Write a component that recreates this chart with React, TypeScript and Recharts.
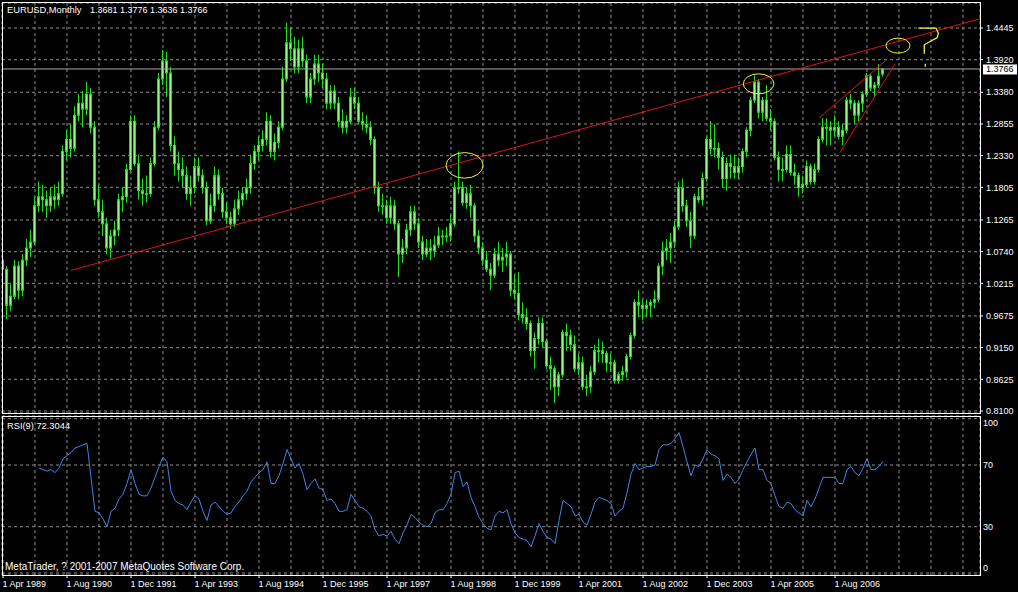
import React from 'react';
import { ComposedChart, Bar, Line, XAxis, YAxis, CartesianGrid, ReferenceLine, ReferenceDot } from 'recharts';

// EURUSD monthly, first bar = 1 Apr 1989. [open, high, low, close]
const candles: [number, number, number, number][] = [
  [1.060, 1.072, 1.030, 1.045], [1.045, 1.050, 0.962, 0.985], [0.985, 1.020, 0.975, 1.000], [1.000, 1.060, 0.995, 1.050],
  [1.050, 1.058, 0.995, 1.010], [1.010, 1.070, 1.000, 1.060], [1.060, 1.095, 1.050, 1.080], [1.080, 1.110, 1.065, 1.090],
  [1.090, 1.165, 1.085, 1.150], [1.150, 1.190, 1.140, 1.165], [1.165, 1.185, 1.140, 1.160], [1.160, 1.175, 1.130, 1.150],
  [1.150, 1.180, 1.140, 1.165], [1.165, 1.185, 1.145, 1.160], [1.160, 1.190, 1.150, 1.170], [1.170, 1.250, 1.165, 1.240],
  [1.240, 1.275, 1.225, 1.260], [1.260, 1.285, 1.230, 1.245], [1.245, 1.315, 1.240, 1.300], [1.300, 1.335, 1.290, 1.320],
  [1.320, 1.340, 1.280, 1.310], [1.310, 1.355, 1.300, 1.335], [1.335, 1.345, 1.270, 1.280], [1.280, 1.290, 1.150, 1.160],
  [1.160, 1.185, 1.130, 1.140], [1.140, 1.160, 1.100, 1.120], [1.120, 1.130, 1.070, 1.080], [1.080, 1.110, 1.063, 1.100],
  [1.100, 1.125, 1.085, 1.110], [1.110, 1.170, 1.100, 1.160], [1.160, 1.180, 1.140, 1.165], [1.165, 1.220, 1.155, 1.210],
  [1.210, 1.300, 1.205, 1.290], [1.290, 1.300, 1.215, 1.220], [1.220, 1.235, 1.160, 1.175], [1.175, 1.195, 1.150, 1.170],
  [1.170, 1.200, 1.155, 1.170], [1.170, 1.230, 1.165, 1.220], [1.220, 1.290, 1.215, 1.280], [1.280, 1.370, 1.275, 1.360],
  [1.360, 1.408, 1.350, 1.390], [1.390, 1.405, 1.330, 1.370], [1.370, 1.380, 1.240, 1.250], [1.250, 1.265, 1.200, 1.220],
  [1.220, 1.240, 1.190, 1.210], [1.210, 1.230, 1.180, 1.200], [1.200, 1.215, 1.160, 1.170], [1.170, 1.200, 1.150, 1.180],
  [1.180, 1.230, 1.170, 1.215], [1.215, 1.230, 1.190, 1.200], [1.200, 1.210, 1.170, 1.180], [1.180, 1.190, 1.118, 1.125],
  [1.125, 1.170, 1.120, 1.150], [1.150, 1.215, 1.140, 1.200], [1.200, 1.210, 1.160, 1.170], [1.170, 1.180, 1.130, 1.140],
  [1.140, 1.155, 1.120, 1.130], [1.130, 1.140, 1.112, 1.120], [1.120, 1.160, 1.115, 1.145], [1.145, 1.175, 1.135, 1.160],
  [1.160, 1.180, 1.150, 1.170], [1.170, 1.195, 1.160, 1.180], [1.180, 1.235, 1.170, 1.220], [1.220, 1.250, 1.210, 1.240],
  [1.240, 1.265, 1.225, 1.250], [1.250, 1.275, 1.240, 1.260], [1.260, 1.305, 1.250, 1.290], [1.290, 1.300, 1.230, 1.240],
  [1.240, 1.270, 1.225, 1.255], [1.255, 1.290, 1.245, 1.280], [1.280, 1.380, 1.275, 1.360], [1.360, 1.453, 1.355, 1.420],
  [1.420, 1.445, 1.390, 1.410], [1.410, 1.430, 1.370, 1.380], [1.380, 1.425, 1.370, 1.410], [1.410, 1.430, 1.380, 1.390],
  [1.390, 1.400, 1.320, 1.330], [1.330, 1.370, 1.320, 1.360], [1.360, 1.400, 1.350, 1.385], [1.385, 1.400, 1.355, 1.370],
  [1.370, 1.385, 1.345, 1.360], [1.360, 1.370, 1.310, 1.320], [1.320, 1.350, 1.310, 1.340], [1.340, 1.350, 1.310, 1.320],
  [1.320, 1.330, 1.280, 1.290], [1.290, 1.310, 1.270, 1.280], [1.280, 1.300, 1.270, 1.290], [1.290, 1.345, 1.285, 1.330],
  [1.330, 1.345, 1.310, 1.320], [1.320, 1.330, 1.285, 1.290], [1.290, 1.305, 1.275, 1.285], [1.285, 1.300, 1.270, 1.280],
  [1.280, 1.290, 1.250, 1.260], [1.260, 1.265, 1.170, 1.180], [1.180, 1.190, 1.140, 1.150], [1.150, 1.170, 1.135, 1.150],
  [1.150, 1.160, 1.120, 1.130], [1.130, 1.165, 1.120, 1.150], [1.150, 1.160, 1.110, 1.120], [1.120, 1.125, 1.032, 1.070],
  [1.070, 1.095, 1.055, 1.080], [1.080, 1.120, 1.070, 1.110], [1.110, 1.150, 1.100, 1.140], [1.140, 1.150, 1.110, 1.120],
  [1.120, 1.130, 1.080, 1.090], [1.090, 1.100, 1.060, 1.070], [1.070, 1.095, 1.065, 1.080], [1.080, 1.095, 1.060, 1.075],
  [1.075, 1.100, 1.065, 1.085], [1.085, 1.115, 1.080, 1.100], [1.100, 1.110, 1.085, 1.100], [1.100, 1.115, 1.090, 1.100],
  [1.100, 1.135, 1.090, 1.120], [1.120, 1.190, 1.115, 1.180], [1.180, 1.240, 1.170, 1.180], [1.180, 1.190, 1.150, 1.155],
  [1.155, 1.180, 1.145, 1.170], [1.170, 1.185, 1.130, 1.150], [1.150, 1.155, 1.090, 1.100], [1.100, 1.110, 1.070, 1.080],
  [1.080, 1.090, 1.050, 1.060], [1.060, 1.075, 1.040, 1.045], [1.045, 1.055, 1.010, 1.035], [1.035, 1.080, 1.030, 1.070],
  [1.070, 1.090, 1.050, 1.060], [1.060, 1.080, 1.040, 1.065], [1.065, 1.090, 1.050, 1.070], [1.070, 1.075, 1.000, 1.010],
  [1.010, 1.035, 0.995, 1.005], [1.005, 1.040, 0.960, 0.970], [0.970, 0.990, 0.955, 0.965], [0.965, 0.980, 0.945, 0.955],
  [0.955, 0.960, 0.900, 0.910], [0.910, 0.940, 0.880, 0.930], [0.930, 0.965, 0.920, 0.955], [0.955, 0.965, 0.915, 0.925],
  [0.925, 0.930, 0.880, 0.885], [0.885, 0.900, 0.845, 0.880], [0.880, 0.885, 0.823, 0.850], [0.850, 0.875, 0.835, 0.870],
  [0.870, 0.945, 0.865, 0.940], [0.940, 0.955, 0.910, 0.935], [0.935, 0.945, 0.910, 0.920], [0.920, 0.935, 0.875, 0.880],
  [0.880, 0.905, 0.870, 0.890], [0.890, 0.900, 0.845, 0.850], [0.850, 0.870, 0.835, 0.850], [0.850, 0.885, 0.840, 0.875],
  [0.875, 0.920, 0.870, 0.910], [0.910, 0.930, 0.890, 0.910], [0.910, 0.925, 0.890, 0.905], [0.905, 0.910, 0.875, 0.890],
  [0.890, 0.905, 0.875, 0.890], [0.890, 0.895, 0.855, 0.860], [0.860, 0.875, 0.855, 0.870], [0.870, 0.885, 0.860, 0.875],
  [0.875, 0.905, 0.865, 0.900], [0.900, 0.940, 0.895, 0.935], [0.935, 0.995, 0.930, 0.990], [0.990, 1.010, 0.965, 0.985],
  [0.985, 0.995, 0.960, 0.980], [0.980, 0.995, 0.965, 0.985], [0.985, 0.995, 0.965, 0.990], [0.990, 1.010, 0.980, 0.995],
  [0.995, 1.055, 0.990, 1.050], [1.050, 1.090, 1.035, 1.075], [1.075, 1.095, 1.060, 1.080], [1.080, 1.105, 1.055, 1.090],
  [1.090, 1.125, 1.080, 1.115], [1.115, 1.190, 1.110, 1.180], [1.180, 1.195, 1.140, 1.150], [1.150, 1.160, 1.115, 1.125],
  [1.125, 1.140, 1.080, 1.100], [1.100, 1.170, 1.095, 1.165], [1.165, 1.180, 1.155, 1.160], [1.160, 1.205, 1.150, 1.195],
  [1.195, 1.265, 1.190, 1.260], [1.260, 1.290, 1.235, 1.245], [1.245, 1.285, 1.230, 1.245], [1.245, 1.255, 1.210, 1.230],
  [1.230, 1.240, 1.180, 1.195], [1.195, 1.230, 1.175, 1.220], [1.220, 1.235, 1.195, 1.215], [1.215, 1.235, 1.195, 1.205],
  [1.205, 1.230, 1.195, 1.215], [1.215, 1.245, 1.205, 1.240], [1.240, 1.280, 1.230, 1.275], [1.275, 1.330, 1.265, 1.325],
  [1.325, 1.366, 1.320, 1.355], [1.355, 1.360, 1.295, 1.305], [1.305, 1.330, 1.290, 1.325], [1.325, 1.350, 1.290, 1.295],
  [1.295, 1.310, 1.275, 1.290], [1.290, 1.295, 1.225, 1.230], [1.230, 1.240, 1.190, 1.210], [1.210, 1.230, 1.190, 1.210],
  [1.210, 1.250, 1.205, 1.235], [1.235, 1.250, 1.200, 1.205], [1.205, 1.220, 1.185, 1.200], [1.200, 1.205, 1.165, 1.180],
  [1.180, 1.200, 1.170, 1.185], [1.185, 1.225, 1.180, 1.215], [1.215, 1.220, 1.185, 1.190], [1.190, 1.220, 1.185, 1.210],
  [1.210, 1.265, 1.205, 1.260], [1.260, 1.295, 1.255, 1.280], [1.280, 1.295, 1.250, 1.280], [1.280, 1.290, 1.250, 1.275],
  [1.275, 1.300, 1.265, 1.280], [1.280, 1.290, 1.260, 1.265], [1.265, 1.285, 1.250, 1.275], [1.275, 1.330, 1.270, 1.325],
  [1.325, 1.335, 1.310, 1.320], [1.320, 1.325, 1.285, 1.300], [1.300, 1.325, 1.290, 1.320], [1.320, 1.340, 1.305, 1.335],
  [1.335, 1.370, 1.330, 1.365], [1.365, 1.370, 1.340, 1.345], [1.345, 1.355, 1.330, 1.350], [1.350, 1.385, 1.345, 1.365],
  [1.3681, 1.3776, 1.3636, 1.3766],
];

// RSI(9), starts at the 10th bar (Jan 1990)
const rsiStart = 9;
const rsi9 = [
  68, 67, 66, 67, 65, 68, 74, 76, 78, 81, 82, 83,
  84, 62, 40, 39, 35, 30, 40, 42, 48, 51, 58, 67,
  58, 51, 50, 50, 55, 62, 69, 75, 72, 53, 47, 45,
  44, 41, 46, 50, 48, 40, 34, 44, 46, 43, 40, 38,
  39, 43, 46, 50, 53, 59, 62, 65, 67, 72, 58, 58,
  63, 71, 80, 74, 68, 71, 64, 54, 58, 61, 55, 54,
  47, 48, 45, 40, 40, 41, 51, 47, 43, 42, 40, 37,
  28, 24, 25, 24, 27, 22, 19, 26, 31, 38, 36, 33,
  31, 30, 32, 39, 41, 41, 45, 51, 65, 66, 56, 59,
  49, 43, 36, 32, 29, 28, 37, 40, 39, 41, 32, 26,
  23, 22, 21, 17, 24, 32, 27, 23, 22, 19, 34, 47,
  45, 43, 37, 38, 33, 31, 38, 46, 49, 48, 47, 45,
  37, 40, 42, 52, 64, 71, 67, 68, 69, 69, 70, 80,
  83, 83, 84, 87, 91, 82, 72, 63, 70, 69, 74, 80,
  77, 76, 74, 60, 64, 62, 58, 61, 67, 72, 77, 81,
  67, 67, 60, 58, 50, 43, 42, 46, 45, 41, 39, 37,
  47, 43, 48, 55, 62, 62, 62, 62, 58, 58, 67, 69,
  65, 63, 68, 74, 67, 67, 69, 72.3044,
];

const priceTicks = [0.81, 0.8625, 0.915, 0.9675, 1.0215, 1.074, 1.1265, 1.1805, 1.233, 1.2855, 1.338, 1.392, 1.4445];
const rsiTicks = [0, 30, 70, 100];
const gridMonths = [0, 8, 16, 24, 32, 40, 48, 56, 64, 72, 80, 88, 96, 104, 112, 120, 128, 136, 144, 152, 160, 168, 176, 184, 192, 200, 208, 216, 224, 232, 240];
const dateLabels: Record<number, string> = {
  0: '1 Apr 1989', 16: '1 Aug 1990', 32: '1 Dec 1991', 48: '1 Apr 1993', 64: '1 Aug 1994', 80: '1 Dec 1995', 96: '1 Apr 1997',
  112: '1 Aug 1998', 128: '1 Dec 1999', 144: '1 Apr 2001', 160: '1 Aug 2002', 176: '1 Dec 2003', 192: '1 Apr 2005', 208: '1 Aug 2006',
};
const lastPrice = 1.3766;

// hand drawn objects (bar index, price)
const trendLine = [{ x: 17, y: 1.0429 }, { x: 244.25, y: 1.4598 }];
const channelUpper = [{ x: 204, y: 1.2952 }, { x: 220.9, y: 1.3918 }];
const channelLower = [{ x: 209.25, y: 1.2381 }, { x: 223, y: 1.3852 }];
const circles = [
  { x: 115.4, y: 1.2169, rx: 18.5, ry: 12.8 },
  { x: 188.9, y: 1.352, rx: 15.3, ry: 10 },
  { x: 223.75, y: 1.4153, rx: 12, ry: 7.5 },
];
const questionMark = { x: 231.25, y: 1.4167 };

const rows = candles.map((c, i) => ({
  i,
  open: c[0],
  high: c[1],
  low: c[2],
  close: c[3],
  rsi: i >= rsiStart ? rsi9[i - rsiStart] : null,
}));

const FONT = '"Liberation Sans", Arial, sans-serif';
const GRID = '#8c8c8c';
const RED = '#dd1414';
const YEL = '#f4f43a';
const xDomain: [number, number] = [-0.25, 244.25];

const Candle = (props: any) => {
  const { x, y, width, height, payload } = props;
  if (!payload || payload.high == null) return null;
  const top = Math.min(y, y + height);
  const h = Math.abs(height);
  const k = h / (payload.high - payload.low || 1);
  const cx = Math.floor(x + width / 2) + 0.5;
  const yO = top + (payload.high - payload.open) * k;
  const yC = top + (payload.high - payload.close) * k;
  const bTop = Math.min(yO, yC);
  const bH = Math.max(Math.abs(yC - yO), 1);
  return (
    <g>
      <line x1={cx} x2={cx} y1={top} y2={top + h} stroke="#1fe01f" />
      <rect x={cx - 1} y={bTop} width={2} height={bH} fill="#8cff78" stroke="#1fe01f" />
    </g>
  );
};

const PriceTag = (props: any) => {
  const vb = props.viewBox;
  if (!vb) return null;
  const x = vb.x + vb.width + 3;
  return (
    <g>
      <rect x={x} y={vb.y - 4.5} width={34} height={10} fill="#ffffff" />
      <text x={x + 3} y={vb.y + 3.5} fontSize={9} fontFamily={FONT} fill="#000">{lastPrice.toFixed(4)}</text>
    </g>
  );
};

const DateTick = (props: any) => {
  const { x, y, payload } = props;
  const label = dateLabels[payload.value];
  if (!label) return null;
  return (
    <g>
      <line x1={x} x2={x} y1={y} y2={y + 3} stroke="#fff" />
      <text x={x - 0.5} y={y + 12} fontSize={9} fontFamily={FONT} fill="#fff">{label}</text>
    </g>
  );
};

const RsiTick = (props: any) => {
  const { x, y, payload } = props;
  const v = payload.value;
  const dy = v === 100 ? 4 : v === 0 ? -5 : 0;
  return (
    <text x={x + 3} y={y + dy + 3} fontSize={9} fontFamily={FONT} fill="#fff">{v}</text>
  );
};

const Ellipse = (rx: number, ry: number) => (p: any) => (
  <ellipse cx={p.cx} cy={p.cy} rx={rx} ry={ry} fill="none" stroke={YEL} strokeWidth={1} />
);

const Question = (p: any) => {
  const { cx, cy } = p;
  const d = `M${cx - 9.7},${cy - 16.7} L${cx + 8},${cy - 16.7} L${cx + 10.3},${cy - 11.7} L${cx + 9.3},${cy - 7.3} L${cx + 0.3},${cy - 2.3} L${cx - 3.7},${cy} L${cx - 3.7},${cy + 9}`;
  return (
    <g>
      <path d={d} fill="none" stroke={YEL} strokeWidth={1.3} />
      <line x1={cx - 2.7} x2={cx - 2.7} y1={cy + 19} y2={cy + 22} stroke={YEL} strokeWidth={1.3} />
    </g>
  );
};

const overlayText: React.CSSProperties = {
  position: 'absolute',
  color: '#fff',
  fontFamily: FONT,
  fontSize: 10,
  lineHeight: '11px',
  whiteSpace: 'pre',
};

export default function App() {
  return (
    <div style={{ position: 'fixed', left: 0, top: 0, width: 1018, height: 592, background: '#000', overflow: 'hidden' }}>
      {/* price panel */}
      <div style={{ position: 'absolute', left: 0, top: 0 }}>
        <ComposedChart width={1018} height={416} data={rows} margin={{ top: 3, right: 0, bottom: 3, left: 2 }}>
          <CartesianGrid stroke={GRID} strokeDasharray="3 3" />
          <XAxis dataKey="i" type="number" domain={xDomain} ticks={gridMonths} allowDataOverflow hide />
          <YAxis
            orientation="right"
            width={38}
            domain={[0.8067, 1.4859]}
            ticks={priceTicks}
            interval={0}
            allowDataOverflow
            axisLine={false}
            tickSize={3}
            tickMargin={3}
            tickLine={{ stroke: '#fff' }}
            tick={{ fill: '#fff', fontSize: 9, fontFamily: FONT }}
            tickFormatter={(v: number) => v.toFixed(4)}
          />
          <ReferenceLine y={lastPrice} stroke="#a8a8a8" label={<PriceTag />} />
          <Bar dataKey={(d: any) => [d.low, d.high]} barSize={3} shape={(p: any) => <Candle {...p} />} isAnimationActive={false} />
          <ReferenceLine segment={trendLine} stroke={RED} ifOverflow="visible" />
          <ReferenceLine segment={channelUpper} stroke={RED} ifOverflow="visible" />
          <ReferenceLine segment={channelLower} stroke={RED} ifOverflow="visible" />
          {circles.map((c, k) => (
            <ReferenceDot key={k} x={c.x} y={c.y} ifOverflow="visible" shape={Ellipse(c.rx, c.ry)} />
          ))}
          <ReferenceDot x={questionMark.x} y={questionMark.y} ifOverflow="visible" shape={Question} />
        </ComposedChart>
      </div>

      {/* RSI panel */}
      <div style={{ position: 'absolute', left: 0, top: 413 }}>
        <ComposedChart width={1018} height={179} data={rows} margin={{ top: 3, right: 0, bottom: 0, left: 2 }}>
          <CartesianGrid stroke={GRID} strokeDasharray="3 3" />
          <XAxis
            dataKey="i"
            type="number"
            domain={xDomain}
            ticks={gridMonths}
            allowDataOverflow
            height={17}
            axisLine={false}
            tickLine={false}
            tickSize={0}
            tickMargin={0}
            tick={<DateTick />}
            interval={0}
          />
          <YAxis
            orientation="right"
            width={38}
            domain={[-1.3, 101.75]}
            ticks={rsiTicks}
            allowDataOverflow
            axisLine={false}
            tickLine={false}
            tickSize={0}
            tickMargin={0}
            tick={<RsiTick />}
            interval={0}
          />
          <Line dataKey="rsi" type="linear" stroke="#3f86e8" strokeWidth={1} dot={false} isAnimationActive={false} />
        </ComposedChart>
      </div>

      {/* frames */}
      <div style={{ position: 'absolute', left: 2, top: 2, width: 977, height: 410, border: '1px solid #fff' }} />
      <div style={{ position: 'absolute', left: 2, top: 416, width: 977, height: 158, border: '1px solid #fff' }} />

      <div style={{ ...overlayText, left: 7, top: 5, fontSize: 9.3 }}>EURUSD,Monthly</div>
      <div style={{ ...overlayText, left: 90, top: 5, fontSize: 9 }}>1.3681 1.3776 1.3636 1.3766</div>
      <div style={{ ...overlayText, left: 7, top: 421, fontSize: 9.3 }}>RSI(9) 72.3044</div>
      <div style={{ ...overlayText, left: 5, top: 561 }}>MetaTrader, ? 2001-2007 MetaQuotes Software Corp.</div>
    </div>
  );
}
